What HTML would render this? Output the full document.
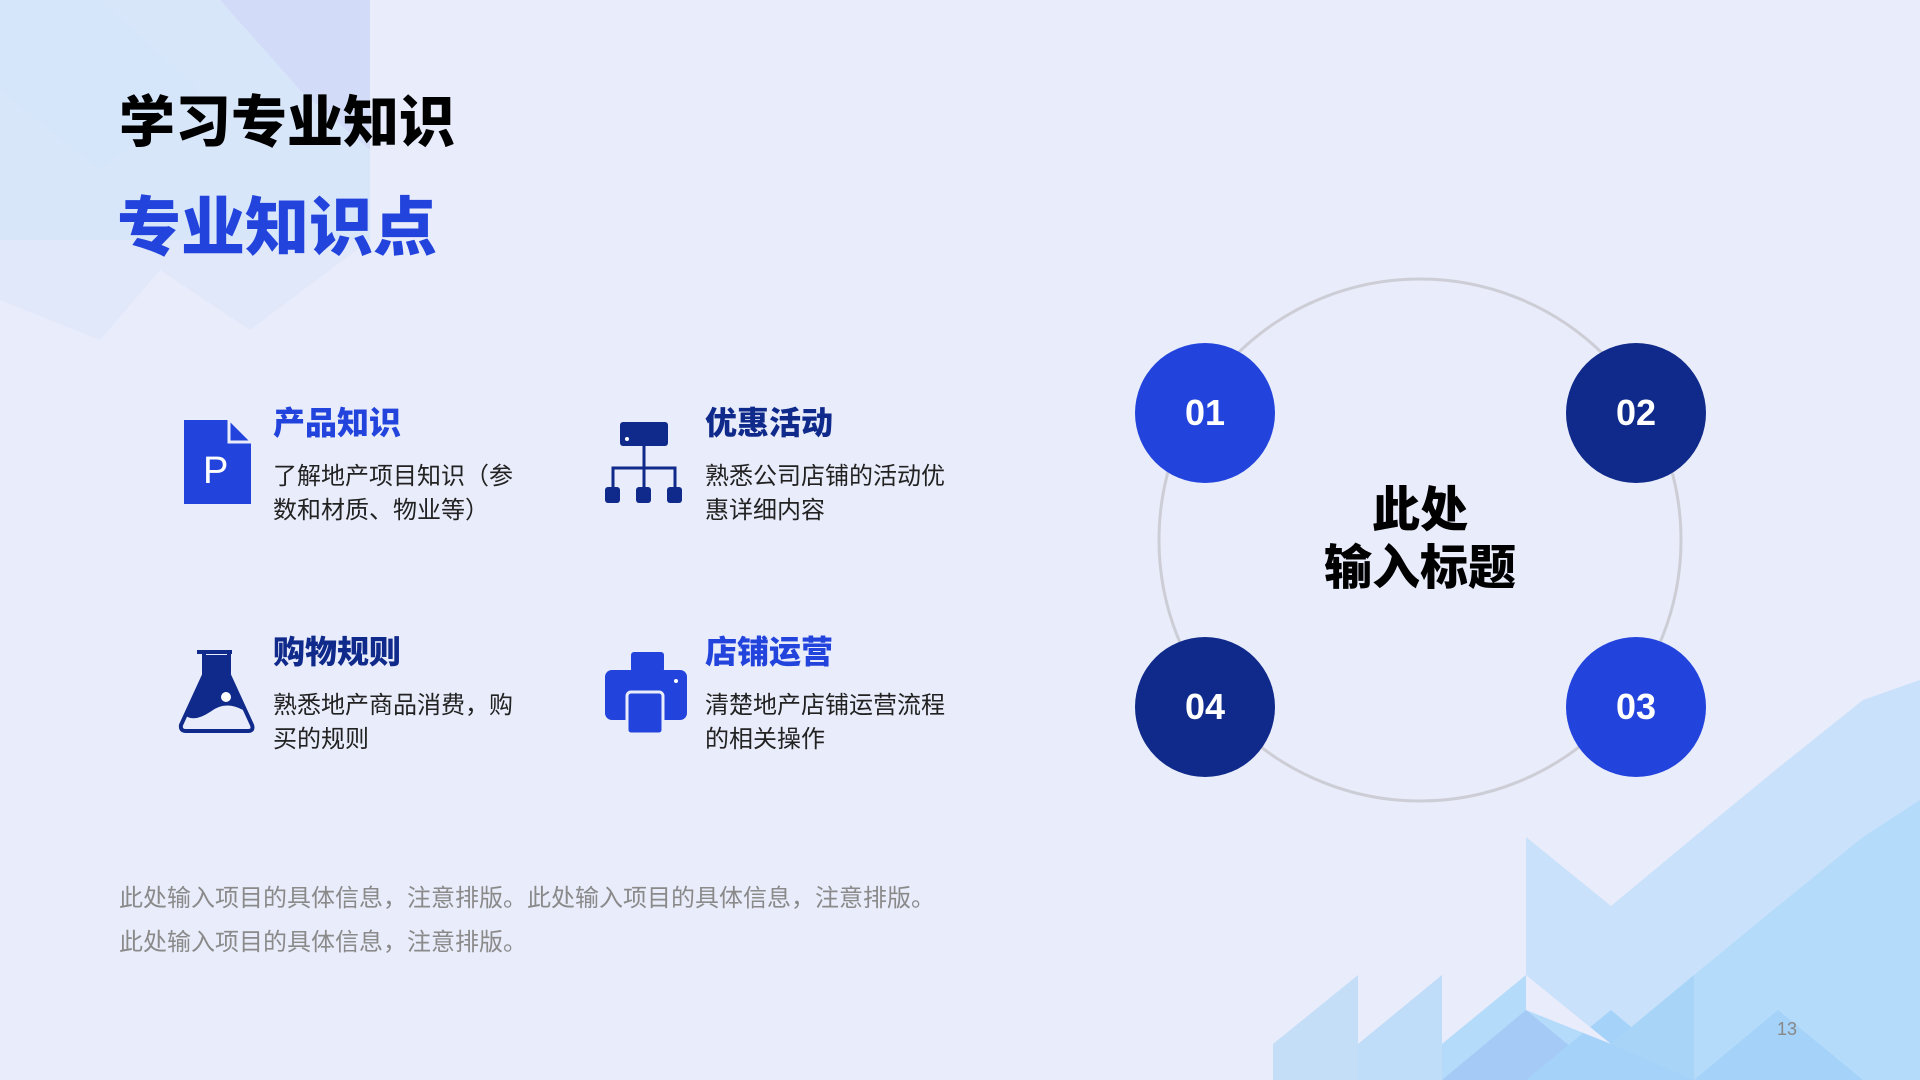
<!DOCTYPE html>
<html><head><meta charset="utf-8"><style>
*{margin:0;padding:0}
html,body{width:1920px;height:1080px;overflow:hidden}
body{background:#e9ecfa;position:relative;font-family:"Liberation Sans","Noto Sans CJK SC",sans-serif}
.a{position:absolute;white-space:nowrap}
.h1{left:119px;top:88px;font-size:56px;font-weight:900;color:#000;line-height:70px}
.h2{left:117px;top:188px;font-size:64px;font-weight:900;color:#2244dd;line-height:80px}
.t{font-size:32px;font-weight:900;line-height:40px}
.d{font-size:24px;color:#222;line-height:34px;white-space:normal;width:250px}
.n{position:absolute;width:140px;height:140px;border-radius:50%;color:#fff;font-size:36px;font-weight:700;text-align:center;line-height:140px}
</style></head><body>
<svg class="a" style="left:0;top:0" width="1920" height="1080">
 <g opacity="0.85">
  <rect x="0" y="0" width="370" height="240" fill="#d6e6fa"/>
  <polygon points="220,0 370,0 370,150 300,90" fill="#cfd9f7"/>
  <polygon points="0,0 100,0 200,90 100,170 0,90" fill="#d3e5fb"/>
  <polygon points="0,240 370,240 250,330 160,270 100,340 0,300" fill="#dfe8f9"/>
 </g>
 <g>
  <polygon points="1273,1080 1273,1044 1358,975 1358,1080" fill="#c5def8"/>
  <polygon points="1358,1080 1358,1044 1442,975 1442,1080" fill="#bfdcf8"/>
  <polygon points="1442,1044 1526,975 1526,837 1611,906 1694,837 1778,768 1863,700 1920,680 1920,1080 1442,1080" fill="#c9e1fa"/>
  <polygon points="1442,1044 1526,975 1611,1044 1694,975 1778,906 1863,837 1920,800 1920,1080 1442,1080" fill="#b5dbfa"/>
  <polygon points="1442,1080 1526,1010 1611,1080" fill="#a5caf6"/>
  <polygon points="1526,1080 1611,1010 1694,1080" fill="#a5d2f8"/>
  <polygon points="1694,1080 1778,1010 1863,1080" fill="#a5d2f8"/>
  <polygon points="1611,1044 1694,975 1694,1080" fill="#a8d4f8"/>
  <polygon points="1526,975 1611,1044 1526,1010" fill="#e9ecfa"/>
 </g>
 <circle cx="1420" cy="540" r="261" fill="none" stroke="#cdcdd6" stroke-width="3"/>
 <path d="M184,420 H228 L251,443 V504 H184 Z" fill="#2244dd"/>
 <path d="M229,420 V442 H251" fill="none" stroke="#e9ecfa" stroke-width="3"/>
 <text x="203" y="483" font-family="Liberation Sans" font-size="38" fill="#fff">P</text>
 <rect x="620" y="422" width="48" height="24" rx="3" fill="#0f2a8a"/>
 <circle cx="627" cy="439" r="2" fill="#fff"/>
 <path d="M644,446 V489 M613,489 V468 H675 V489" fill="none" stroke="#0f2a8a" stroke-width="3"/>
 <rect x="605" y="487" width="15" height="16" rx="3" fill="#0f2a8a"/>
 <rect x="636" y="487" width="15" height="16" rx="3" fill="#0f2a8a"/>
 <rect x="667" y="487" width="15" height="16" rx="3" fill="#0f2a8a"/>
 <path d="M197,652 H232 M204,652 V675 L181,725 Q180,731 186,731 H248 Q254,731 252,725 L229,675 V652" fill="none" stroke="#0f2a8a" stroke-width="4"/>
 <path d="M204,655 H228 V676 L243,710 Q225,700 210,712 Q195,722 186,716 L204,676 Z" fill="#0f2a8a"/>
 <circle cx="226" cy="697" r="5" fill="#fff"/>
 <rect x="631" y="652" width="33" height="20" rx="3" fill="#2244dd"/>
 <rect x="605" y="670" width="82" height="50" rx="7" fill="#2244dd"/>
 <rect x="627" y="692" width="36" height="42" rx="4" fill="#2244dd" stroke="#e9ecfa" stroke-width="3"/>
 <circle cx="676" cy="681" r="2" fill="#fff"/>
</svg>
<div class="a h1">学习专业知识</div>
<div class="a h2">专业知识点</div>

<div class="a t" style="left:273px;top:403px;color:#2244dd">产品知识</div>
<div class="a d" style="left:273px;top:460px">了解地产项目知识（参数和材质、物业等）</div>
<div class="a t" style="left:705px;top:403px;color:#0f2a8a">优惠活动</div>
<div class="a d" style="left:705px;top:460px">熟悉公司店铺的活动优惠详细内容</div>
<div class="a t" style="left:273px;top:632px;color:#0f2a8a">购物规则</div>
<div class="a d" style="left:273px;top:689px">熟悉地产商品消费，购买的规则</div>
<div class="a t" style="left:705px;top:632px;color:#2244dd">店铺运营</div>
<div class="a d" style="left:705px;top:689px">清楚地产店铺运营流程的相关操作</div>

<div class="a" style="left:119px;top:877px;font-size:24px;color:#8a8a8a;line-height:44px">此处输入项目的具体信息，注意排版。此处输入项目的具体信息，注意排版。<br>此处输入项目的具体信息，注意排版。</div>

<div class="n" style="left:1135px;top:343px;background:#2244dd">01</div>
<div class="n" style="left:1566px;top:343px;background:#0f2a8a">02</div>
<div class="n" style="left:1135px;top:637px;background:#0f2a8a">04</div>
<div class="n" style="left:1566px;top:637px;background:#2244dd">03</div>
<div class="a" style="left:1270px;top:482px;width:300px;text-align:center;font-size:48px;font-weight:900;line-height:58px">此处<br>输入标题</div>
<div class="a" style="left:1777px;top:1019px;font-size:18px;color:#888">13</div>
</body></html>
